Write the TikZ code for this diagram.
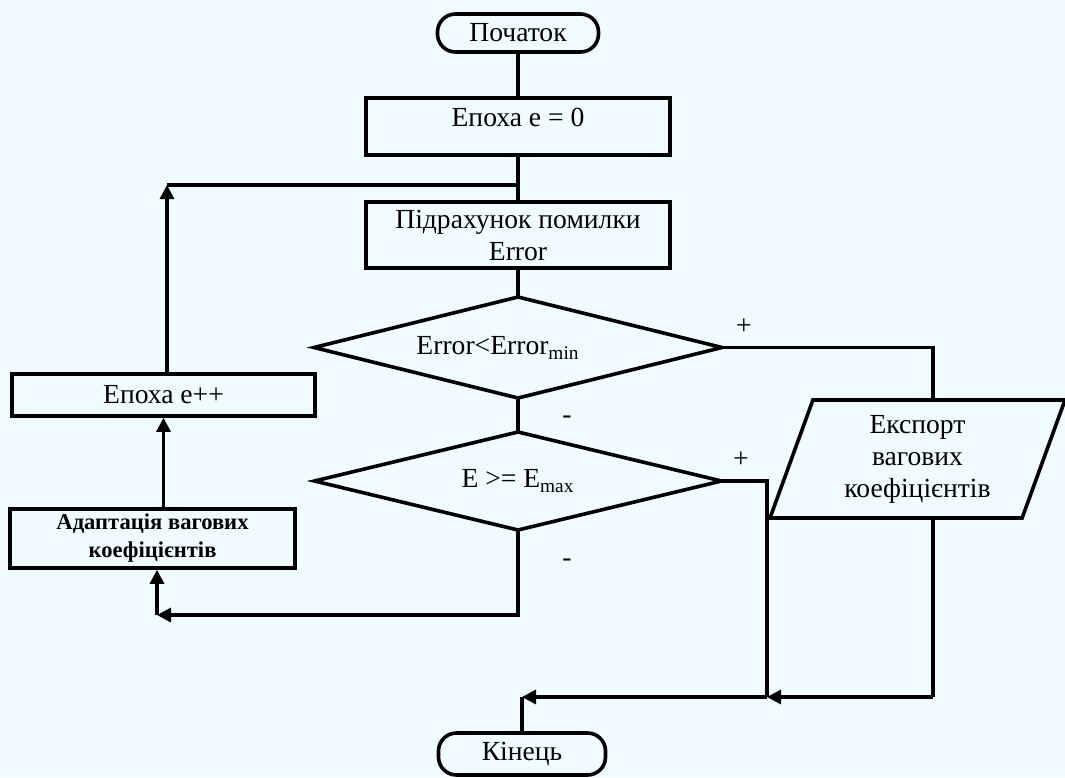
\documentclass[tikz,border=0pt]{standalone}
\usepackage{fontspec}
\setmainfont{Liberation Serif}
\usetikzlibrary{shapes.geometric,arrows.meta}
\definecolor{bgfill}{RGB}{240,251,255}

\begin{document}
\begin{tikzpicture}[x=0.5pt, y=-0.5pt, font=\fontsize{13.8}{16}\selectfont,
  blk/.style={rectangle, draw, line width=1.8pt, inner sep=0pt},
  term/.style={blk, rounded corners=9pt},
  dec/.style={diamond, draw, line width=1.8pt, inner sep=0pt, outer sep=0pt, aspect=4},
  io/.style={trapezium, trapezium left angle=64, trapezium right angle=116, trapezium stretches body, draw, line width=1.8pt, inner sep=0pt, align=center},
  lbl/.style={inner sep=0pt, align=center},
  ln/.style={line width=1.6pt},
  arr/.style={ln, -{Triangle[length=7pt,width=7pt]}}]
  \fill[bgfill] (0,0) rectangle (1065,777);
  \useasboundingbox (0,0) rectangle (1065,777);

  \node[term, minimum width=80.5pt, minimum height=19pt] (start) at (518,33) {Початок};
  \node[blk, minimum width=152pt, minimum height=28.5pt] (e0) at (518,126.5) {};
  \node[lbl] (e0txt) at (518,117) {Епоха е = 0};
  \node[blk, minimum width=152pt, minimum height=33pt, align=center] (err) at (518,235) {Підрахунок помилки\\Error};
  \node[dec, minimum width=204pt, minimum height=50.5pt] (d1) at (518,347.5) {};
  \node[lbl] (d1txt) at (498,348) {Error<Error\textsubscript{min}};
  \node[dec, minimum width=203.5pt, minimum height=49pt] (d2) at (518,481) {E >= E\textsubscript{max}};
  \node[blk, minimum width=151.5pt, minimum height=21pt] (inc) at (163.5,395) {Епоха е++};
  \node[blk, minimum width=142.5pt, minimum height=29.5pt, align=center, font=\fontsize{11.3}{14}\selectfont\bfseries] (adapt) at (152.5,538.5) {Адаптація вагових\\коефіцієнтів};
  \node[io, minimum width=147.5pt, minimum height=59pt] (exp) at (917.5,459) {Експорт\\вагових\\коефіцієнтів};
  \node[term, minimum width=83.5pt, minimum height=21pt] (fin) at (522,754) {Кінець};

  \node[lbl] (p1) at (744,327) {+};
  \node[lbl] (m1) at (567,420) {-};
  \node[lbl] (p2) at (741,460) {+};
  \node[lbl] (m2) at (567,563) {-};

  \coordinate (jtop) at (518,185);
  \coordinate (ltop) at (167,185);
  \coordinate (xin) at (933,400);
  \coordinate (xout) at (933,518);
  \coordinate (r2) at (767,481);
  \coordinate (jbot) at (767,697);
  \coordinate (rbot) at (933,697);
  \coordinate (fbot) at (522,697);
  \coordinate (lbot) at (157,615);

  \draw[ln] (start) -- (e0);
  \draw[ln] (e0) -- (err);
  \draw[ln] (jtop) -- (ltop);
  \draw[arr] (inc.north -| ltop) -- (ltop);
  \draw[ln] (err) -- (d1.north);
  \draw[ln] (d1.east) -| (xin);
  \draw[ln] (d1.south) -- (d2.north);
  \draw[ln] (d2.east) -- (r2) -- (jbot);
  \draw[ln] (xout) -- (rbot);
  \draw[arr] (rbot) -- (jbot);
  \draw[arr] (jbot) -- (fbot);
  \draw[ln] (fbot) -- (fin);
  \draw[arr] (d2.south) |- (lbot);
  \draw[arr] (lbot) -- (adapt.south -| lbot);
  \draw[arr] (adapt.north -| inc.south) -- (inc.south);
\end{tikzpicture}
\end{document}
